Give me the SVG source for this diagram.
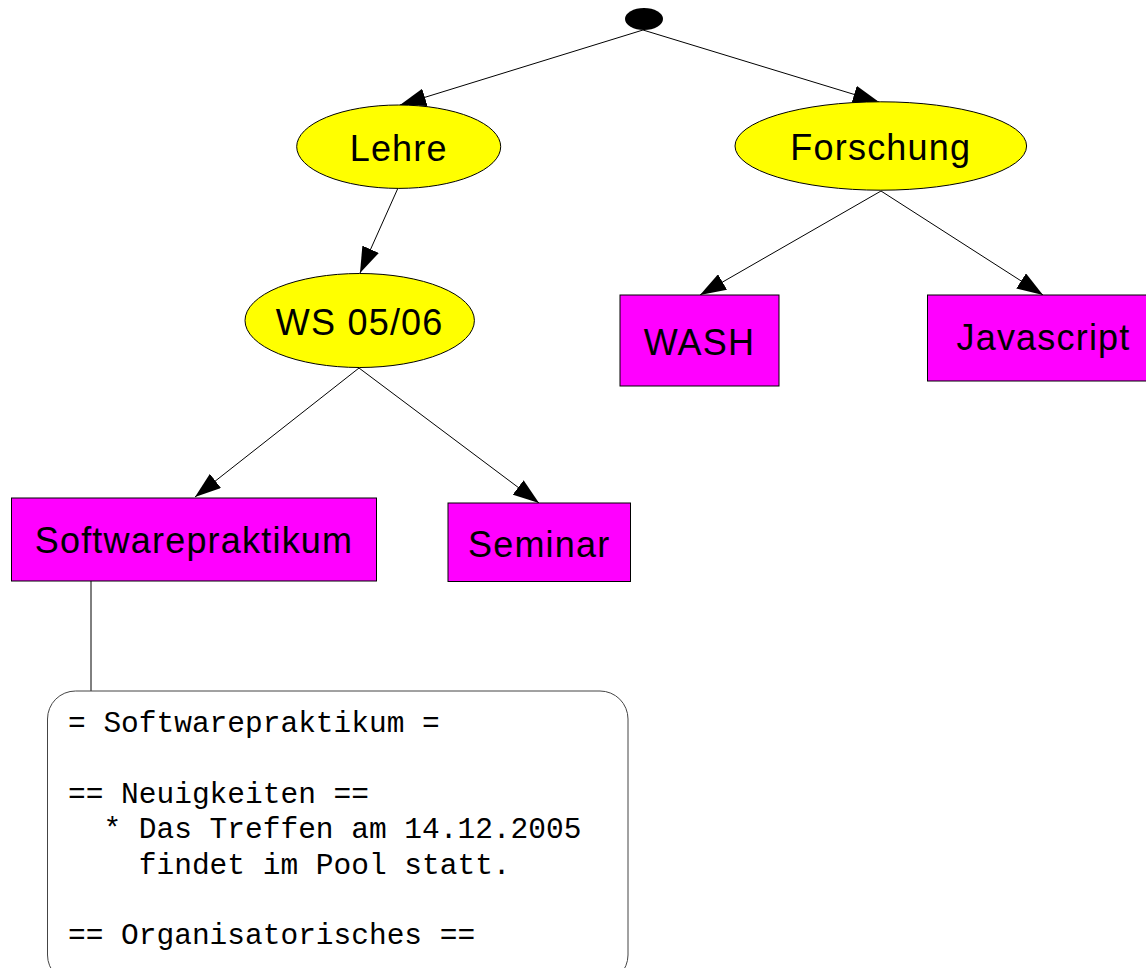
<svg xmlns="http://www.w3.org/2000/svg" width="1146" height="968" viewBox="0 0 1146 968">
  <style>
    .ell { fill: #ffff00; stroke: #000; stroke-width: 1; }
    .box { fill: #ff00ff; stroke: #000; stroke-width: 1; }
    .lbl { font-family: "Liberation Sans", Arial, sans-serif; font-size: 36px; letter-spacing: 1.2px; fill: #000; text-anchor: middle; }
    .edge { stroke: #000; stroke-width: 1; fill: none; }
    .note { fill: #fff; stroke: #444; stroke-width: 1; }
    .mono { font-family: "Liberation Mono", "Courier New", monospace; font-size: 29.5px; fill: #000; white-space: pre; }
  </style>
  <defs>
    <marker id="arrow" markerUnits="userSpaceOnUse" markerWidth="26" markerHeight="18" refX="26" refY="9" orient="auto" viewBox="0 0 26 18">
      <path d="M0,0 L26,9 L0,18 z" fill="#000"/>
    </marker>
  </defs>

  <rect width="1146" height="968" fill="#fff"/>

  <!-- connectors -->
  <g id="edges">
    <line class="edge" x1="643" y1="30" x2="400" y2="105" marker-end="url(#arrow)"/>
    <line class="edge" x1="643" y1="30" x2="879" y2="102" marker-end="url(#arrow)"/>
    <line class="edge" x1="398" y1="188" x2="360" y2="273" marker-end="url(#arrow)"/>
    <line class="edge" x1="359" y1="368" x2="195" y2="497" marker-end="url(#arrow)"/>
    <line class="edge" x1="359" y1="368" x2="539" y2="503" marker-end="url(#arrow)"/>
    <line class="edge" x1="881" y1="191" x2="700" y2="295" marker-end="url(#arrow)"/>
    <line class="edge" x1="881" y1="191" x2="1043" y2="295" marker-end="url(#arrow)"/>
    <line class="edge" x1="91" y1="581" x2="91" y2="691"/>
  </g>

  <!-- nodes -->
  <g id="root">
    <ellipse cx="644" cy="19" rx="19" ry="11" fill="#000"/>
  </g>
  <g id="lehre">
    <ellipse class="ell" cx="398.7" cy="146.7" rx="102" ry="41.7"/>
    <text class="lbl" x="398.7" y="160.5">Lehre</text>
  </g>
  <g id="forschung">
    <ellipse class="ell" cx="880.8" cy="146" rx="145.8" ry="44.2"/>
    <text class="lbl" x="880.8" y="160">Forschung</text>
  </g>
  <g id="ws0506">
    <ellipse class="ell" cx="359.7" cy="320.5" rx="114.7" ry="47"/>
    <text class="lbl" x="359.7" y="335">WS 05/06</text>
  </g>
  <g id="wash">
    <rect class="box" x="620" y="295" width="159" height="91"/>
    <text class="lbl" x="699.5" y="355">WASH</text>
  </g>
  <g id="javascript">
    <rect class="box" x="927.5" y="295" width="232" height="86"/>
    <text class="lbl" x="1043.5" y="350">Javascript</text>
  </g>
  <g id="softwarepraktikum">
    <rect class="box" x="11.5" y="498" width="365" height="83"/>
    <text class="lbl" x="194" y="553">Softwarepraktikum</text>
  </g>
  <g id="seminar">
    <rect class="box" x="448" y="503" width="182.5" height="78.5"/>
    <text class="lbl" x="539.2" y="556.5">Seminar</text>
  </g>
  <g id="note">
    <rect class="note" x="47.5" y="691" width="580.5" height="292" rx="28" ry="28"/>
    <text class="mono" x="68" y="732">= Softwarepraktikum =</text>
    <text class="mono" x="68" y="802.5">== Neuigkeiten ==</text>
    <text class="mono" x="68" y="838">  * Das Treffen am 14.12.2005</text>
    <text class="mono" x="68" y="873.5">    findet im Pool statt.</text>
    <text class="mono" x="68" y="944">== Organisatorisches ==</text>
  </g>
</svg>
